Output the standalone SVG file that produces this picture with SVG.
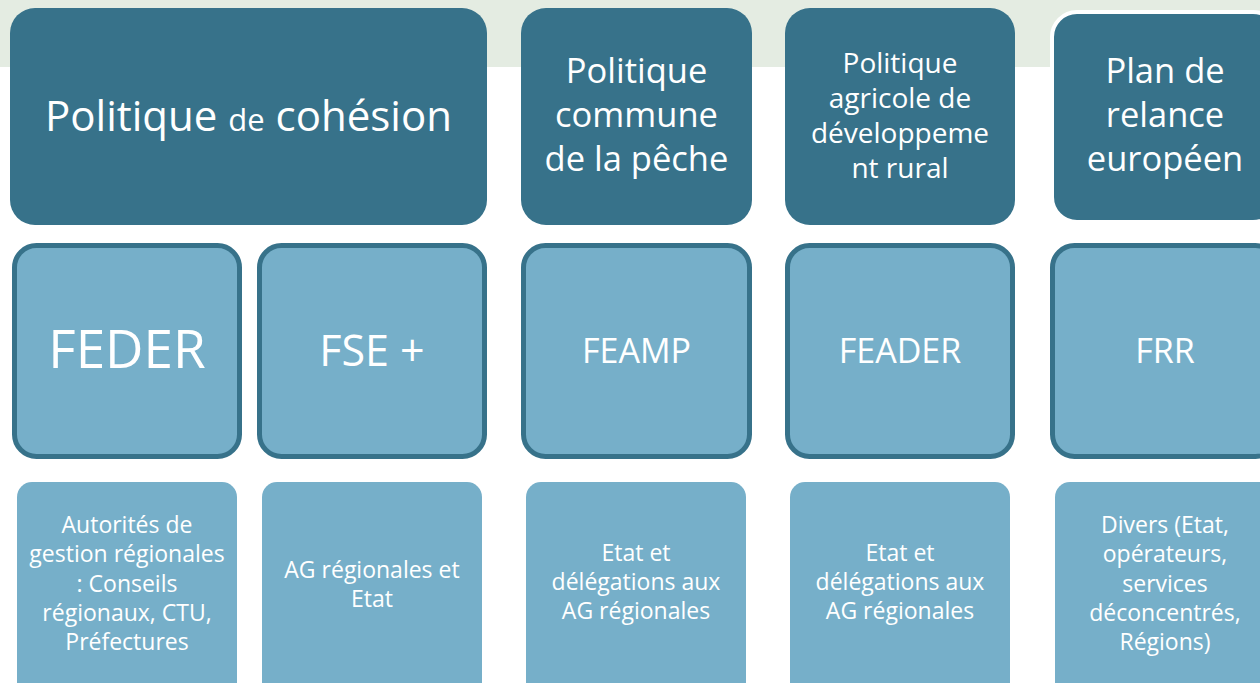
<svg xmlns="http://www.w3.org/2000/svg" width="1260" height="683" viewBox="0 0 1260 683">
<style>
.top{fill:#37728A}
.mid{fill:#76AFC9;stroke:#37728A;stroke-width:5}
.bot{fill:#76AFC9}
text{font-family:"Open Sans","Noto Sans",sans-serif;fill:#FFFFFF;text-anchor:middle}
</style>
<rect x="0" y="0" width="1260" height="67" fill="#E4ECE2"/>
<g id="connectors"></g>
<g id="top-cohesion"><rect class="top" x="10" y="8" width="477" height="217" rx="25"/>
<text x="248.5" y="131" font-size="42">Politique <tspan font-size="31">de</tspan> cohésion</text></g>
<g id="top-peche"><rect class="top" x="521" y="8" width="231" height="217" rx="25"/>
<text font-size="34.5"><tspan x="636.5" y="83">Politique</tspan><tspan x="636.5" y="127">commune</tspan><tspan x="636.5" y="171">de la pêche</tspan></text></g>
<g id="top-agricole"><rect class="top" x="785" y="8" width="230" height="217" rx="25"/>
<text font-size="28"><tspan x="900" y="73">Politique</tspan><tspan x="900" y="108">agricole de</tspan><tspan x="900" y="143">développeme</tspan><tspan x="900" y="178">nt rural</tspan></text></g>
<g id="top-relance"><rect class="top" x="1052" y="12" width="226" height="210" rx="25" stroke="#FFFFFF" stroke-width="4"/>
<text font-size="34.5"><tspan x="1165" y="83">Plan de</tspan><tspan x="1165" y="127">relance</tspan><tspan x="1165" y="171">européen</tspan></text></g>
<g id="mid-feder"><rect class="mid" x="14.5" y="245.5" width="225" height="211" rx="22"/>
<text x="127" y="368" font-size="53">FEDER</text></g>
<g id="mid-fse"><rect class="mid" x="259.5" y="245.5" width="225" height="211" rx="22"/>
<text x="372" y="366" font-size="43">FSE +</text></g>
<g id="mid-feamp"><rect class="mid" x="523.5" y="245.5" width="226" height="211" rx="22"/>
<text x="636.5" y="363" font-size="34">FEAMP</text></g>
<g id="mid-feader"><rect class="mid" x="787.5" y="245.5" width="225" height="211" rx="22"/>
<text x="900" y="363" font-size="34">FEADER</text></g>
<g id="mid-frr"><rect class="mid" x="1052.5" y="245.5" width="225" height="211" rx="22"/>
<text x="1165" y="363" font-size="34">FRR</text></g>
<g id="bot-autorites"><rect class="bot" x="17" y="482" width="220" height="230" rx="15"/>
<text font-size="23"><tspan x="127" y="533">Autorités de</tspan><tspan x="127" y="562">gestion régionales</tspan><tspan x="127" y="592">: Conseils</tspan><tspan x="127" y="621">régionaux, CTU,</tspan><tspan x="127" y="650">Préfectures</tspan></text></g>
<g id="bot-ag"><rect class="bot" x="262" y="482" width="220" height="230" rx="15"/>
<text font-size="23"><tspan x="372" y="578">AG régionales et</tspan><tspan x="372" y="607">Etat</tspan></text></g>
<g id="bot-etat1"><rect class="bot" x="526" y="482" width="220" height="230" rx="15"/>
<text font-size="23"><tspan x="636" y="561">Etat et</tspan><tspan x="636" y="590">délégations aux</tspan><tspan x="636" y="619">AG régionales</tspan></text></g>
<g id="bot-etat2"><rect class="bot" x="790" y="482" width="220" height="230" rx="15"/>
<text font-size="23"><tspan x="900" y="561">Etat et</tspan><tspan x="900" y="590">délégations aux</tspan><tspan x="900" y="619">AG régionales</tspan></text></g>
<g id="bot-divers"><rect class="bot" x="1055" y="482" width="220" height="230" rx="15"/>
<text font-size="23"><tspan x="1165" y="533">Divers (Etat,</tspan><tspan x="1165" y="562">opérateurs,</tspan><tspan x="1165" y="592">services</tspan><tspan x="1165" y="621">déconcentrés,</tspan><tspan x="1165" y="650">Régions)</tspan></text></g>
</svg>
